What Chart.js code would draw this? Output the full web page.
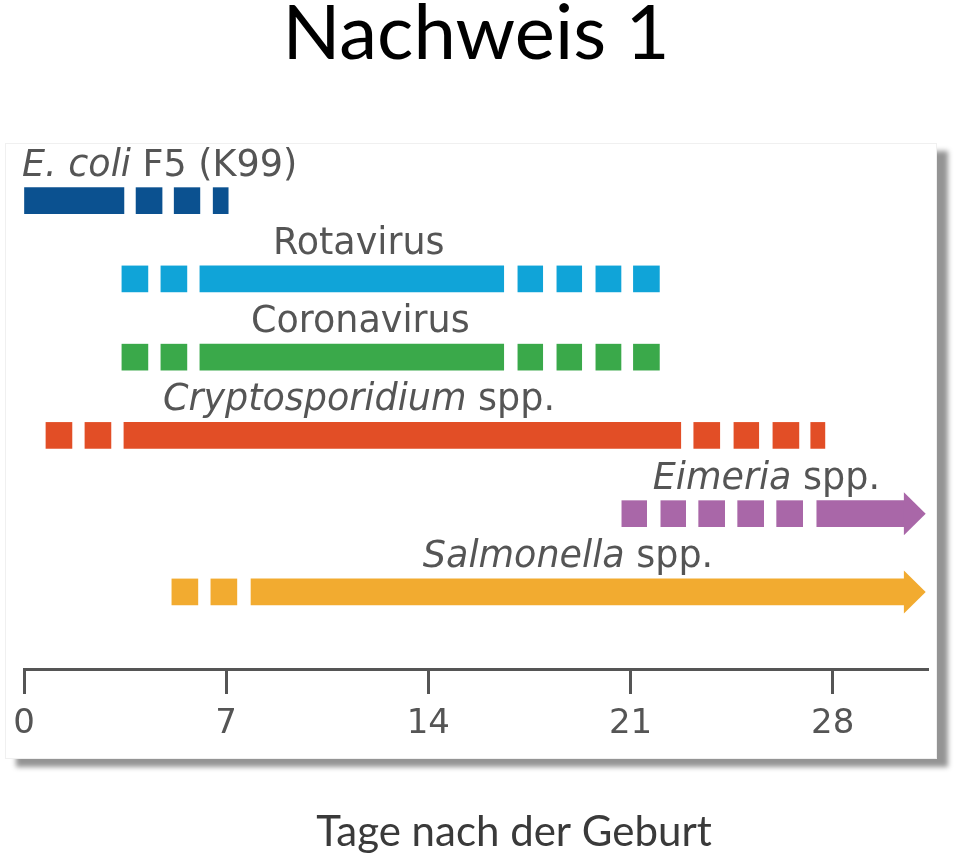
<!DOCTYPE html>
<html>
<head>
<meta charset="utf-8">
<title>Nachweis 1</title>
<script src="https://cdn.jsdelivr.net/npm/chart.js@4/dist/chart.umd.min.js"></script>
<style>
  html, body { margin: 0; padding: 0; background: #fff; }
  #wrap { width: 960px; height: 858px; }
</style>
</head>
<body>
<div id="wrap"><canvas id="chart" width="960" height="858"></canvas></div>
<script>
// rows, top to bottom
const pathogens = ["E. coli F5 (K99)", "Rotavirus", "Coronavirus", "Cryptosporidium spp.", "Eimeria spp.", "Salmonella spp."];
const italicParts = ["E. coli", "", "", "Cryptosporidium", "Eimeria", "Salmonella"];
const colors = ["#0b5190", "#10a4d8", "#3aa94a", "#e24e26", "#a967a8", "#f2ab30"];

// periods of detection in days after birth, [start, end]
const ecoli = [[0, 3.46], [3.88, 4.78], [5.2, 6.09], [6.55, 7.07]];
const rotavirus = [[3.39, 4.29], [4.74, 5.64], [6.09, 16.61], [17.1, 17.96], [18.45, 19.31], [19.8, 20.67], [21.1, 22.0]];
const coronavirus = [[3.39, 4.29], [4.74, 5.64], [6.09, 16.61], [17.1, 17.96], [18.45, 19.31], [19.8, 20.67], [21.1, 22.0]];
const crypto = [[0.76, 1.66], [2.11, 3.01], [3.46, 22.74], [23.19, 24.09], [24.58, 25.44], [25.93, 26.83], [27.24, 27.73]];
const eimeria = [[20.7, 21.56], [22.05, 22.91], [23.36, 24.26], [24.71, 25.61], [26.06, 26.96], [27.45, 30.5]];
const salmonella = [[5.12, 6.02], [6.47, 7.37], [7.86, 30.5]];
const segments = [ecoli, rotavirus, coronavirus, crypto, eimeria, salmonella];

// open-ended rows get an arrow head reaching this day
const arrowTips = [null, null, null, null, 31.22, 31.22];

const xTicks = [0, 7, 14, 21, 28];
const xTitle = "Tage nach der Geburt";

const TEXT = "#555";
const labelFont = '"DejaVu Sans", Verdana, sans-serif';
const titleFont = "Lato, 'Open Sans', sans-serif";

// white panel with a drop shadow behind the plot
const framePlugin = {
  id: "frame",
  beforeDraw(chart) {
    const {ctx, chartArea: a} = chart;
    const l = a.left - 19, t = a.top + 3, r = a.right + 9, b = a.bottom + 90;
    ctx.save();
    ctx.shadowColor = "rgba(0,0,0,0.42)";
    ctx.shadowBlur = 5;
    ctx.shadowOffsetX = 11;
    ctx.shadowOffsetY = 8;
    ctx.fillStyle = "#fff";
    ctx.fillRect(l, t, r - l, b - t);
    ctx.restore();
    ctx.save();
    ctx.strokeStyle = "#f0f0f0";
    ctx.lineWidth = 1;
    ctx.strokeRect(l + 0.5, t + 0.5, r - l - 1, b - t - 1);
    ctx.restore();
  }
};

// arrow heads, row labels and the axis caption
const rowPlugin = {
  id: "rows",
  afterDatasetsDraw(chart, args, opts) {
    const {ctx, chartArea: a, scales: {x, y}} = chart;
    ctx.save();
    segments.forEach((segs, i) => {
      const cy = y.getPixelForValue(i);
      if (arrowTips[i] !== null) {
        const base = x.getPixelForValue(segs[segs.length - 1][1]);
        const tip = x.getPixelForValue(arrowTips[i]);
        ctx.fillStyle = colors[i];
        ctx.beginPath();
        ctx.moveTo(base - 1, cy - opts.headHalf);
        ctx.lineTo(tip, cy);
        ctx.lineTo(base - 1, cy + opts.headHalf);
        ctx.closePath();
        ctx.fill();
      }
      const it = italicParts[i];
      const rest = pathogens[i].slice(it.length);
      let px = x.getPixelForValue(opts.labelStart[i]);
      const py = cy - opts.labelGap;
      ctx.fillStyle = TEXT;
      ctx.textBaseline = "alphabetic";
      ctx.textAlign = "left";
      if (it) {
        ctx.font = "italic " + opts.size + "px " + labelFont;
        ctx.fillText(it, px, py);
        px += ctx.measureText(it).width;
      }
      ctx.font = opts.size + "px " + labelFont;
      ctx.fillText(rest, px, py);
    });

    ctx.fillStyle = "#3a3a3a";
    ctx.font = "42px " + titleFont;
    ctx.textAlign = "center";
    ctx.textBaseline = "middle";
    ctx.fillText(xTitle, (a.left + a.right) / 2 + 38, a.bottom + 163);
    ctx.restore();
  }
};

const datasets = segments.map((segs, i) => ({
  label: pathogens[i],
  data: segs.map(s => ({x: s, y: i})),
  backgroundColor: colors[i],
  borderWidth: 0,
  barThickness: 26,
  grouped: false
}));

new Chart(document.getElementById("chart").getContext("2d"), {
  type: "bar",
  data: { datasets: datasets },
  plugins: [framePlugin, rowPlugin],
  options: {
    indexAxis: "y",
    responsive: false,
    animation: false,
    layout: { padding: { left: 24, right: 32, top: 0, bottom: 103.2 } },
    plugins: {
      legend: { display: false },
      tooltip: { enabled: false },
      title: {
        display: true,
        text: "Nachweis 1",
        color: "#000",
        font: { family: titleFont, size: 76, weight: "normal", lineHeight: 0.9 },
        padding: { top: 0, bottom: 71.6 }
      },
      rows: {
        size: 36.5,
        labelGap: 25,
        headHalf: 21.5,
        labelStart: [-0.07, 8.62, 7.86, 4.81, 21.77, 13.81]
      }
    },
    scales: {
      x: {
        type: "linear",
        min: 0,
        max: 31.3,
        afterBuildTicks: scale => { scale.ticks = xTicks.map(v => ({value: v})); },
        grid: {
          drawOnChartArea: false,
          drawTicks: true,
          tickLength: 25,
          tickWidth: 3,
          tickColor: TEXT
        },
        border: { display: true, color: TEXT, width: 3 },
        ticks: {
          color: TEXT,
          padding: 10,
          maxRotation: 0,
          font: { family: labelFont, size: 34 }
        }
      },
      y: {
        type: "linear",
        reverse: true,
        offset: false,
        min: -0.775,
        max: 5.985,
        display: false
      }
    }
  }
});
</script>
</body>
</html>
